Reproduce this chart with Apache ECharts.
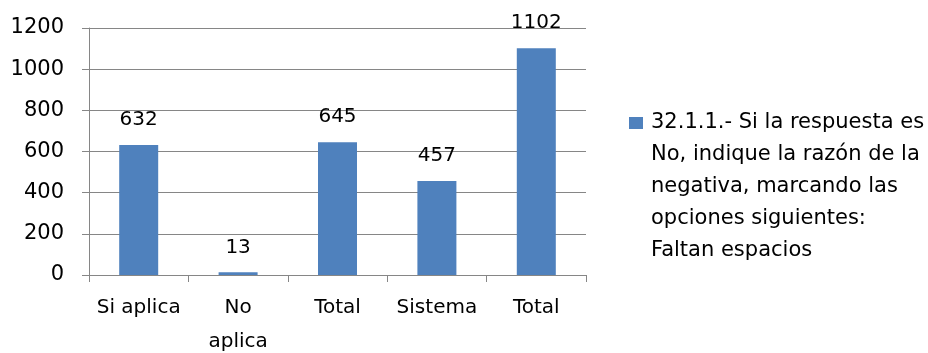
<!DOCTYPE html>
<html>
<head>
<meta charset="utf-8">
<script src="https://cdn.jsdelivr.net/npm/echarts@6/dist/echarts.min.js"></script>
<style>
  html, body { margin: 0; padding: 0; background: #fff; }
  #chart { width: 928px; height: 353px; }
</style>
</head>
<body>
<div id="chart"></div>
<script>
// data
var categories = ['Si aplica', 'No aplica', 'Total', 'Sistema', 'Total']
var values = [632, 13, 645, 457, 1102]
var yTicks = [0, 200, 400, 600, 800, 1000, 1200]
var seriesName = '32.1.1.- Si la respuesta es No, indique la razón de la negativa, marcando las opciones siguientes: Faltan espacios'
var legendLines = [
  '32.1.1.- Si la respuesta es',
  'No, indique la razón de la',
  'negativa, marcando las',
  'opciones siguientes:',
  'Faltan espacios'
]

var font = 'DejaVu Sans'
var gray = '#868686'
var barColor = '#4F81BD'

var chart = echarts.init(document.getElementById('chart'))
chart.setOption({
  animation: false,
  textStyle: { fontFamily: font },
  grid: {
    left: 89,
    right: 342,
    top: 28,
    bottom: 78,
    containLabel: false,
    outerBoundsMode: 'none'
  },
  legend: {
    data: [seriesName],
    left: 624,
    top: 107,
    padding: 0,
    icon: 'none',
    itemWidth: 0,
    itemHeight: 12,
    // marker drawn in the rich text so it sits on the first line
    formatter: function () {
      return legendLines.map(function (l, i) {
        return (i === 0 ? '{m|}{g|}' : '{s|}') + l
      }).join('\n')
    },
    textStyle: {
      fontFamily: font,
      fontSize: 21,
      color: '#000',
      lineHeight: 32,
      rich: {
        m: { width: 14, height: 12, backgroundColor: barColor, lineHeight: 32 },
        g: { width: 8, lineHeight: 32 },
        s: { width: 22, lineHeight: 32 }
      }
    }
  },
  xAxis: {
    type: 'category',
    data: categories,
    axisLine: { lineStyle: { color: gray, width: 1 } },
    axisTick: { show: true, length: 7, lineStyle: { color: gray } },
    axisLabel: {
      color: '#000',
      fontSize: 20,
      lineHeight: 34,
      margin: 16,
      interval: 0,
      formatter: function (v) {
        return v === 'No aplica' ? 'No\naplica' : v
      }
    }
  },
  yAxis: {
    type: 'value',
    min: yTicks[0],
    max: yTicks[yTicks.length - 1],
    interval: yTicks[1] - yTicks[0],
    axisLine: { show: true, lineStyle: { color: gray, width: 1 } },
    axisTick: { show: true, length: 7, lineStyle: { color: gray } },
    axisLabel: {
      color: '#000',
      fontSize: 21,
      margin: 25,
      formatter: function (v) { return String(v) }
    },
    splitLine: { show: true, lineStyle: { color: gray, width: 1 } }
  },
  series: [
    {
      name: seriesName,
      type: 'bar',
      data: values,
      barWidth: 39,
      itemStyle: { color: barColor },
      label: {
        show: true,
        position: 'top',
        distance: 15,
        color: '#000',
        fontSize: 20,
        fontFamily: font
      }
    }
  ]
})
</script>
</body>
</html>
